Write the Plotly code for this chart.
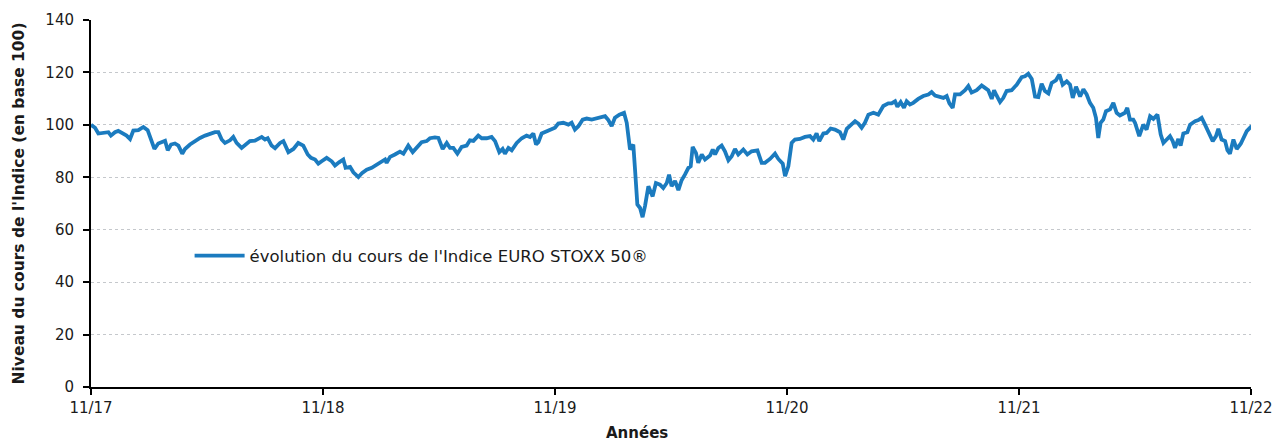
import plotly.graph_objects as go

# months since 11/2017
months = [0.0, 0.21, 0.38, 0.64, 0.90, 1.03, 1.24, 1.41, 1.59, 1.84, 2.02, 2.19, 2.45, 2.71, 2.93,
          3.10, 3.28, 3.48, 3.83, 3.97, 4.14, 4.34, 4.52, 4.72, 4.86, 5.12, 5.38, 5.64, 5.90, 6.16,
          6.41, 6.59, 6.76, 6.93, 7.19, 7.36, 7.53, 7.79, 8.05, 8.22, 8.48, 8.66, 8.83, 9.00, 9.14,
          9.34, 9.52, 9.78, 9.95, 10.21, 10.47, 10.72, 10.98, 11.21, 11.38, 11.59, 11.76, 11.93,
          12.19, 12.45, 12.62, 12.83, 13.05, 13.17, 13.40, 13.57, 13.83, 14.03, 14.26, 14.52, 14.78,
          15.03, 15.21, 15.29, 15.47, 15.72, 15.98, 16.16, 16.41, 16.64, 16.84, 17.10, 17.36, 17.53,
          17.79, 17.97, 18.19, 18.40, 18.57, 18.74, 18.95, 19.17, 19.43, 19.60, 19.78, 20.03, 20.21,
          20.47, 20.72, 20.90, 21.12, 21.29, 21.41, 21.59, 21.76, 22.02, 22.28, 22.53, 22.71, 22.88,
          23.02, 23.14, 23.31, 23.57, 23.83, 24.00, 24.17, 24.43, 24.69, 24.86, 25.03, 25.21, 25.43,
          25.64, 25.90, 26.16, 26.41, 26.59, 26.76, 26.93, 27.10, 27.33, 27.57, 27.71, 27.88, 28.05,
          28.14, 28.26, 28.40, 28.53, 28.66, 28.83, 29.05, 29.22, 29.43, 29.60, 29.78, 29.90, 30.03,
          30.21, 30.38, 30.55, 30.72, 30.90, 31.02, 31.12, 31.29, 31.41, 31.59, 31.76, 32.02, 32.16,
          32.28, 32.45, 32.62, 32.79, 32.97, 33.14, 33.31, 33.48, 33.74, 33.95, 34.17, 34.47, 34.69,
          34.86, 35.12, 35.38, 35.55, 35.78, 35.90, 36.07, 36.24, 36.41, 36.67, 36.93, 37.19, 37.36,
          37.53, 37.67, 37.88, 38.05, 38.26, 38.48, 38.74, 38.91, 39.09, 39.35, 39.52, 39.69, 39.86,
          40.03, 40.21, 40.47, 40.72, 40.98, 41.24, 41.41, 41.59, 41.71, 41.88, 42.05, 42.19, 42.36,
          42.53, 42.79, 43.05, 43.31, 43.48, 43.66, 43.91, 44.09, 44.26, 44.40, 44.57, 44.69, 44.95,
          45.21, 45.38, 45.55, 45.81, 46.07, 46.24, 46.41, 46.59, 46.71, 46.84, 47.02, 47.19, 47.36,
          47.62, 47.88, 48.14, 48.31, 48.48, 48.66, 48.83, 49.00, 49.17, 49.34, 49.52, 49.69, 49.91,
          50.09, 50.26, 50.47, 50.64, 50.78, 50.95, 51.16, 51.33, 51.50, 51.67, 51.84, 51.98, 52.10,
          52.22, 52.36, 52.50, 52.71, 52.88, 53.05, 53.22, 53.48, 53.60, 53.74, 53.91, 54.00, 54.22,
          54.43, 54.60, 54.78, 54.95, 55.16, 55.33, 55.47, 55.64, 55.81, 55.95, 56.07, 56.24, 56.36,
          56.50, 56.71, 56.85, 57.11, 57.28, 57.45, 57.62, 57.79, 58.02, 58.19, 58.31, 58.48, 58.66,
          58.78, 58.91, 59.09, 59.26, 59.47, 59.60, 59.78, 59.95, 60.0]

index_values = [100.0, 98.9, 96.7, 96.9, 97.2, 95.9, 97.2, 97.7, 96.9, 95.9, 94.6, 97.8, 98.0, 99.2, 98.0,
                94.4, 90.8, 92.9, 93.9, 90.3, 92.5, 92.9, 92.1, 89.0, 90.8, 92.5, 93.9, 95.0, 95.9, 96.7,
                97.2, 97.2, 94.4, 93.1, 94.1, 95.4, 93.1, 91.2, 92.9, 93.8, 94.0, 94.6, 95.4, 94.4, 94.9,
                92.1, 91.1, 93.1, 93.8, 89.6, 90.8, 93.1, 92.1, 88.7, 87.4, 86.8, 85.2, 86.1,
                87.4, 86.1, 84.5, 85.7, 86.8, 83.6, 84.0, 81.9, 80.1, 81.7, 82.9, 83.6, 84.8,
                86.1, 86.8, 85.5, 87.8, 88.7, 89.8, 89.0, 92.1, 89.6, 91.2, 93.4, 93.8, 94.9,
                95.2, 95.0, 90.8, 93.1, 91.2, 91.2, 89.0, 91.6, 92.1, 94.1, 93.9, 95.9, 94.9,
                94.9, 95.4, 93.8, 89.6, 90.8, 89.0, 91.2, 90.3, 93.1, 94.9, 95.9, 95.4, 96.7,
                92.5, 93.4, 96.7, 97.6, 98.2, 98.9, 100.5, 100.8, 100.1, 100.8, 98.2, 99.5, 102.0,
                102.4, 102.0, 102.5, 102.7, 103.3, 101.8, 99.5, 102.7, 103.9, 104.6, 100.8, 90.6, 92.5,
                82.9, 69.6, 68.3, 64.8, 69.2, 76.6, 72.7, 77.8, 77.2, 75.9, 77.8, 81.0, 76.6,
                78.6, 75.1, 78.9, 81.0, 83.6, 84.2, 91.6, 89.3, 85.5, 88.7, 86.8, 88.3, 90.6,
                88.7, 91.2, 92.1, 89.9, 86.5, 88.0, 90.8, 88.7, 90.6, 88.7, 89.9, 90.3, 85.5,
                85.5, 87.0, 89.0, 87.0, 85.2, 80.4, 84.2, 93.1, 94.4, 94.6, 95.4, 95.7, 94.4,
                96.7, 93.8, 96.7, 96.9, 98.6, 98.2, 97.2, 94.4, 98.5, 100.1, 101.4, 100.5, 98.9,
                100.8, 103.9, 104.6, 103.9, 107.2, 108.2, 108.2, 109.0, 106.9, 108.7, 106.5, 109.0, 107.8,
                108.4, 109.9, 111.0, 111.6, 112.5, 111.2, 110.7, 110.3, 111.0, 108.2, 106.5, 111.6, 111.6,
                113.2, 114.8, 112.3, 113.2, 115.0, 114.1, 113.2, 109.9, 113.2, 111.2, 108.7, 110.3, 112.9,
                113.2, 115.3, 118.2, 118.5, 119.5, 117.5, 110.8, 110.6, 115.7, 112.9, 112.0, 116.0, 117.0,
                119.2, 115.3, 116.6, 115.3, 110.3, 114.5, 110.8, 113.6, 111.6, 108.4, 106.5, 102.7, 95.0,
                100.8, 102.0, 105.2, 105.9, 108.4, 104.6, 103.6, 104.6, 106.5, 102.0, 102.0, 100.8, 95.7,
                100.1, 98.2, 103.3, 102.3, 103.9, 96.3, 93.1, 94.4, 95.7, 93.8, 91.2, 94.6, 92.1,
                96.7, 97.2, 100.1, 101.4, 101.8, 102.7, 100.1, 97.6, 93.8, 95.7, 98.5, 94.4, 93.8,
                90.3, 89.0, 94.4, 90.8, 92.8, 94.6, 97.6, 98.9, 98.2]

tick_positions = [0, 12, 24, 36, 48, 60]
tick_labels = ["11/17", "11/18", "11/19", "11/20", "11/21", "11/22"]
series_name = "évolution du cours de l'Indice EURO STOXX 50®"
x_title = "Années"
y_title = "Niveau du cours de l'Indice (en base 100)"

font_family = "'DejaVu Sans', Inter, sans-serif"
text_color = "#1a1a1a"

fig = go.Figure()
fig.add_trace(go.Scatter(
    x=months, y=index_values, mode="lines", name=series_name,
    line=dict(color="#1b7bbf", width=3.8, shape="linear"),
    showlegend=True,
))

fig.update_layout(
    width=1273, height=442,
    margin=dict(l=91, r=22, t=20, b=55),
    plot_bgcolor="white", paper_bgcolor="white",
    font=dict(family=font_family, size=15, color=text_color),
    showlegend=True,
    legend=dict(x=0.085, y=0.357, xanchor="left", yanchor="middle",
                bgcolor="rgba(0,0,0,0)", font=dict(size=16.5, color=text_color),
                itemwidth=50),
    xaxis=dict(
        range=[0, 60], tickmode="array", tickvals=tick_positions, ticktext=tick_labels,
        showgrid=False, zeroline=False, showline=True, linecolor="black", linewidth=2,
        ticks="outside", ticklen=6, tickwidth=2, tickcolor="black",
        tickfont=dict(size=15), automargin=False,
    ),
    yaxis=dict(
        range=[0, 140], dtick=20, tick0=0,
        showgrid=True, gridcolor="#c5c8cc", griddash="dot", gridwidth=1,
        zeroline=False, showline=True, linecolor="black", linewidth=2,
        ticks="outside", ticklen=6, tickwidth=2, tickcolor="black",
        tickfont=dict(size=15), ticklabelstandoff=6, automargin=False,
    ),
    annotations=[
        dict(text="<b>" + x_title + "</b>", xref="paper", yref="paper",
             x=0.4707, y=0, yshift=-46, xanchor="center", yanchor="middle",
             showarrow=False, font=dict(size=15, color=text_color)),
        dict(text="<b>" + y_title + "</b>", xref="paper", yref="paper",
             x=0, y=0.5, xshift=-73, xanchor="center", yanchor="middle",
             textangle=-90, showarrow=False, font=dict(size=15.5, color=text_color)),
    ],
)

fig.write_html("out.html", config={"displayModeBar": False},
               post_script="document.body.style.margin='0';")
